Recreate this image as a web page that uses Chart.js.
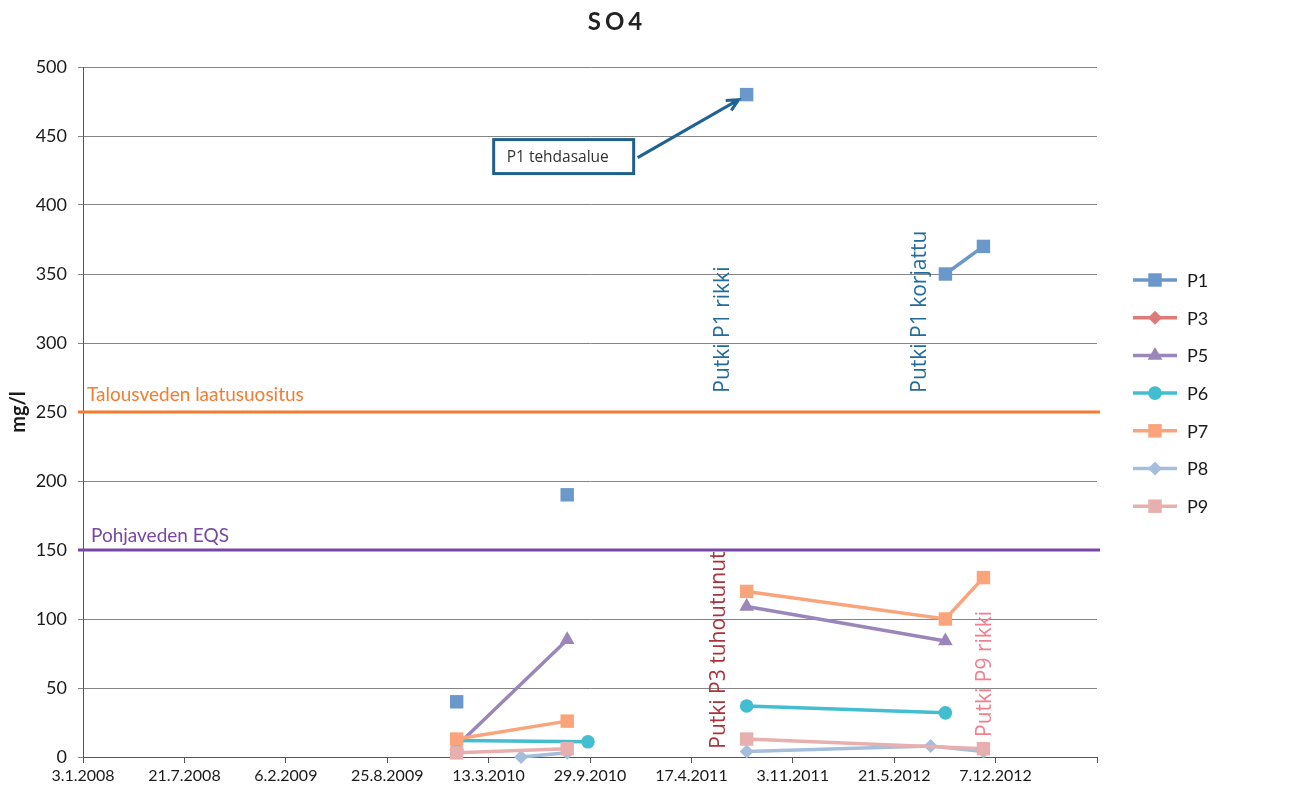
<!DOCTYPE html>
<html>
<head>
<meta charset="utf-8">
<title>SO4</title>
<script src="https://cdn.jsdelivr.net/npm/chart.js@4.4.1/dist/chart.umd.min.js"></script>
<style>
  html, body { margin: 0; padding: 0; background: #fff; }
</style>
</head>
<body>
<canvas id="myChart" width="1297" height="790"></canvas>
<script>
// SO4 results (mg/l) per well. null in a value list = break in the line
const seriesNames = ['P1', 'P3', 'P5', 'P6', 'P7', 'P8', 'P9'];

const p1Dates = ['9.1.2010', '9.1.2010', '15.8.2010', '15.8.2010', '4.8.2011', '4.8.2011', '30.8.2012', '13.11.2012'];
const p1Vals  = [40, null, 190, null, 480, null, 350, 370];

const p3Dates = [];
const p3Vals  = [];

const p5Dates = ['9.1.2010', '15.8.2010', '15.8.2010', '4.8.2011', '30.8.2012'];
const p5Vals  = [8, 85, null, 109, 84];

const p6Dates = ['9.1.2010', '25.9.2010', '25.9.2010', '4.8.2011', '30.8.2012'];
const p6Vals  = [12, 11, null, 37, 32];

const p7Dates = ['9.1.2010', '15.8.2010', '15.8.2010', '4.8.2011', '30.8.2012', '13.11.2012'];
const p7Vals  = [13, 26, null, 120, 100, 130];

const p8Dates = ['16.5.2010', '15.8.2010', '15.8.2010', '4.8.2011', '1.8.2012', '13.11.2012'];
const p8Vals  = [0, 3, null, 4, 8, 4];

const p9Dates = ['9.1.2010', '15.8.2010', '15.8.2010', '4.8.2011', '13.11.2012'];
const p9Vals  = [3, 6, null, 13, 6];

// x axis: every 200 days from 3.1.2008
const xTickLabels = ['3.1.2008', '21.7.2008', '6.2.2009', '25.8.2009', '13.3.2010', '29.9.2010',
                     '17.4.2011', '3.11.2011', '21.5.2012', '7.12.2012', '25.6.2013'];
const xTickShown = 10; // last tick has no label
const yTicks = [0, 50, 100, 150, 200, 250, 300, 350, 400, 450, 500];

// guide values
const limitValues = [250, 150];
const limitLabels = ['Talousveden laatusuositus', 'Pohjaveden EQS'];
const limitColors = ['#f47b30', '#7747a6'];

// notes written up the chart: text, date, value where the text starts
const noteTexts  = ['Putki P1 rikki', 'Putki P1 korjattu', 'Putki P3 tuhoutunut', 'Putki P9 rikki'];
const noteDates  = ['19.6.2011', '10.7.2012', '10.6.2011', '16.11.2012'];
const noteValues = [264, 264, 6, 14.5];
const noteColors = ['#226c9c', '#226c9c', '#a8343c', '#f27f8f'];

const colors = ['#6a98cb', '#e07a78', '#9a86b9', '#43bdd0', '#f9a47a', '#a5bedb', '#e8afaf'];
const markers = ['rect', 'rectRot', 'triangle', 'circle', 'rect', 'rectRot', 'rect'];
const markerSizes = [9.5, 7, 8.5, 6.8, 9.5, 7, 9.5];

function dayOf(s) {
    const [d, m, y] = s.split('.').map(Number);
    return (Date.UTC(y, m - 1, d) - Date.UTC(2008, 0, 3)) / 86400000;
}

function points(dates, vals) {
    return dates.map((d, i) => ({x: dayOf(d), y: vals[i]}));
}

const allDates = [p1Dates, p3Dates, p5Dates, p6Dates, p7Dates, p8Dates, p9Dates];
const allVals = [p1Vals, p3Vals, p5Vals, p6Vals, p7Vals, p8Vals, p9Vals];

let datasets = seriesNames.map((name, i) => ({
    label: name,
    data: points(allDates[i], allVals[i]),
    borderColor: colors[i],
    backgroundColor: colors[i],
    borderWidth: 3.5,
    pointStyle: markers[i],
    pointRadius: markerSizes[i],
    pointBorderWidth: 0,
    pointBackgroundColor: colors[i],
    spanGaps: false,
    tension: 0,
    clip: false,
    order: seriesNames.length - i
}));

function drawMarker(ctx, style, r, x, y) {
    ctx.beginPath();
    if (style === 'rect') {
        const s = r * Math.SQRT1_2;
        ctx.rect(x - s, y - s, 2 * s, 2 * s);
    } else if (style === 'rectRot') {
        ctx.moveTo(x - r, y); ctx.lineTo(x, y - r); ctx.lineTo(x + r, y); ctx.lineTo(x, y + r);
        ctx.closePath();
    } else if (style === 'triangle') {
        ctx.moveTo(x, y - r);
        ctx.lineTo(x + Math.sin(2 * Math.PI / 3) * r, y + r / 2);
        ctx.lineTo(x - Math.sin(2 * Math.PI / 3) * r, y + r / 2);
        ctx.closePath();
    } else {
        ctx.arc(x, y, r, 0, Math.PI * 2);
    }
    ctx.fill();
}

const extras = {
    id: 'extras',
    beforeDatasetsDraw(chart) {
        const {ctx, chartArea, scales: {x, y}} = chart;
        limitValues.forEach((v, i) => {
            const py = y.getPixelForValue(v);
            ctx.save();
            ctx.strokeStyle = limitColors[i];
            ctx.lineWidth = 3;
            ctx.beginPath();
            ctx.moveTo(chartArea.left - 5, py);
            ctx.lineTo(chartArea.right + 3, py);
            ctx.stroke();
            ctx.fillStyle = limitColors[i];
            ctx.font = '19px Lato';
            ctx.textBaseline = 'alphabetic';
            ctx.fillText(limitLabels[i], chartArea.left + (i === 0 ? 4 : 8), py - (i === 0 ? 11 : 8));
            ctx.restore();
        });
    },
    afterDatasetsDraw(chart) {
        const {ctx, chartArea, scales: {x, y}} = chart;
        ctx.save();

        // rotated notes
        ctx.font = '21px "Open Sans"';
        ctx.textBaseline = 'middle';
        ctx.textAlign = 'left';
        noteTexts.forEach((t, i) => {
            ctx.save();
            ctx.translate(x.getPixelForValue(dayOf(noteDates[i])), y.getPixelForValue(noteValues[i]));
            ctx.rotate(-Math.PI / 2);
            ctx.fillStyle = noteColors[i];
            ctx.fillText(t, 0, 0);
            ctx.restore();
        });

        // callout for the 480 point
        const tipX = x.getPixelForValue(dayOf(p1Dates[4])) - 8;
        const tipY = y.getPixelForValue(p1Vals[4]) + 5;
        const fromX = tipX - 101, fromY = tipY + 58;
        ctx.strokeStyle = '#1f6392';
        ctx.lineWidth = 3;
        ctx.beginPath();
        ctx.moveTo(fromX, fromY);
        ctx.lineTo(tipX, tipY);
        const ang = Math.atan2(tipY - fromY, tipX - fromX);
        ctx.moveTo(tipX - 13 * Math.cos(ang - 0.45), tipY - 13 * Math.sin(ang - 0.45));
        ctx.lineTo(tipX, tipY);
        ctx.lineTo(tipX - 13 * Math.cos(ang + 0.45), tipY - 13 * Math.sin(ang + 0.45));
        ctx.stroke();
        ctx.strokeStyle = '#1f5f8b';
        ctx.strokeRect(fromX - 144, fromY - 18, 140, 34);
        ctx.fillStyle = '#333';
        ctx.font = '15.5px "Open Sans"';
        ctx.textBaseline = 'middle';
        ctx.fillText('P1 tehdasalue', fromX - 131, fromY);

        // title
        ctx.fillStyle = '#222';
        ctx.font = 'bold 24px Lato';
        ctx.textAlign = 'center';
        ctx.textBaseline = 'middle';
        ctx.letterSpacing = '4px';
        ctx.fillText('SO4', 617, 22);
        ctx.letterSpacing = '0px';

        // legend
        ctx.textAlign = 'left';
        ctx.font = '18px Lato';
        chart.data.datasets.forEach((ds, i) => {
            const ly = 280 + i * 37.7;
            ctx.strokeStyle = ds.borderColor;
            ctx.lineWidth = 3.5;
            ctx.beginPath();
            ctx.moveTo(chartArea.right + 36, ly);
            ctx.lineTo(chartArea.right + 80, ly);
            ctx.stroke();
            ctx.fillStyle = ds.borderColor;
            drawMarker(ctx, ds.pointStyle, ds.pointRadius, chartArea.right + 58, ly);
            ctx.fillStyle = '#1a1a1a';
            ctx.fillText(ds.label, chartArea.right + 90, ly + 1);
        });
        ctx.restore();
    }
};

const ctx = document.getElementById('myChart').getContext('2d');
const myChart = new Chart(ctx, {
    type: 'line',
    data: {datasets: datasets},
    options: {
        responsive: false,
        animation: false,
        events: [],
        layout: {padding: {left: 0, right: 200, top: 67, bottom: 0}},
        plugins: {legend: {display: false}, title: {display: false}, tooltip: {enabled: false}},
        scales: {
            x: {
                type: 'linear',
                min: dayOf(xTickLabels[0]),
                max: dayOf(xTickLabels[xTickLabels.length - 1]),
                afterBuildTicks: (scale) => {
                    scale.ticks = xTickLabels.map(l => ({value: dayOf(l)}));
                },
                afterFit: (scale) => { scale.height = 33; },
                ticks: {
                    autoSkip: false,
                    maxRotation: 0,
                    padding: 3,
                    color: '#1a1a1a',
                    font: {family: 'Lato', size: 16},
                    callback: (v, i) => (i < xTickShown ? xTickLabels[i] : '')
                },
                grid: {drawOnChartArea: false, drawTicks: true, tickLength: 6, color: '#555'},
                border: {color: '#555', width: 1}
            },
            y: {
                min: yTicks[0],
                max: yTicks[yTicks.length - 1],
                afterBuildTicks: (scale) => {
                    scale.ticks = yTicks.map(v => ({value: v}));
                },
                afterFit: (scale) => { scale.width = 83; },
                ticks: {
                    padding: 11,
                    color: '#1a1a1a',
                    font: {family: 'Lato', size: 18}
                },
                grid: {color: '#858585', tickLength: 5, drawTicks: true},
                border: {color: '#555', width: 1},
                title: {
                    display: true,
                    text: 'mg/l',
                    color: '#1a1a1a',
                    font: {family: 'Lato', size: 20, weight: 'bold'},
                    padding: {top: 7, bottom: 0}
                }
            }
        }
    },
    plugins: [extras]
});
</script>
</body>
</html>
